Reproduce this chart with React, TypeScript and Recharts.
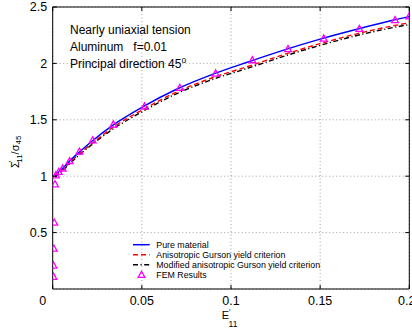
import React from "react";
import {
  ComposedChart,
  Line,
  Scatter,
  XAxis,
  YAxis,
  CartesianGrid,
  ReferenceLine,
} from "recharts";

// ---- data ----
const strain = [0.0013, 0.0034, 0.0056, 0.0095, 0.015, 0.022, 0.034, 0.05, 0.07, 0.09, 0.11, 0.13, 0.15, 0.17, 0.19, 0.2];
const pureMaterial = [1.0, 1.04, 1.07, 1.135, 1.215, 1.31, 1.455, 1.61, 1.775, 1.905, 2.015, 2.12, 2.215, 2.3, 2.38, 2.415];
const anisoGurson = [0.995, 1.03, 1.06, 1.12, 1.2, 1.29, 1.435, 1.585, 1.75, 1.875, 1.975, 2.08, 2.175, 2.26, 2.33, 2.36];
const modifiedGurson = [0.99, 1.02, 1.05, 1.11, 1.19, 1.28, 1.42, 1.57, 1.735, 1.86, 1.96, 2.065, 2.16, 2.245, 2.315, 2.345];

const femStrain = [0.0004, 0.0004, 0.0006, 0.0009, 0.0013, 0.0018, 0.0034, 0.0056, 0.0095, 0.015, 0.0224, 0.034, 0.0515, 0.0713, 0.0914, 0.112, 0.132, 0.152, 0.172, 0.192, 0.2];
const femStress = [0.11, 0.21, 0.36, 0.59, 0.93, 1.01, 1.04, 1.07, 1.135, 1.22, 1.32, 1.46, 1.62, 1.785, 1.912, 2.03, 2.128, 2.222, 2.308, 2.385, 2.42];

const xTicks = [0, 0.05, 0.1, 0.15, 0.2];
const xTickLabels = ["0", "0.05", "0.1", "0.15", "0.2"];
const yTicks = [0.5, 1, 1.5, 2, 2.5];
const yTickLabels = ["0.5", "1", "1.5", "2", "2.5"];

const seriesNames = [
  "Pure material",
  "Anisotropic Gurson yield criterion",
  "Modified anisotropic Gurson yield criterion",
  "FEM Results",
];

// ---- layout ----
const W = 412;
const H = 328;
const TOP = 7;
const RIGHT_M = 2.7;
const Y_AXIS_W = 52.7;
const X_AXIS_H = 39;
const RIGHT_X = W - RIGHT_M;
const FONT = "'Liberation Sans', Arial, Helvetica, sans-serif";

const toRows = (xs: number[], ys: number[]) => xs.map((x, i) => ({ x, y: ys[i] }));
const pureData = toRows(strain, pureMaterial);
const anisoData = toRows(strain, anisoGurson);
const modData = toRows(strain, modifiedGurson);
const femData = toRows(femStrain, femStress);

const MAGENTA = "#ff00ff";

const XTick = (props: any) => {
  const { x, y, payload } = props;
  const idx = xTicks.indexOf(payload.value);
  const label = idx >= 0 ? xTickLabels[idx] : String(payload.value);
  const dx = payload.value === 0 ? -10 : idx === xTicks.length - 1 ? -2.5 : 0;
  return (
    <g>
      <line x1={x} x2={x} y1={y} y2={y - 4} stroke="#000" strokeWidth={1} />
      <line x1={x} x2={x} y1={TOP} y2={TOP + 4} stroke="#000" strokeWidth={1} />
      <text x={x + dx} y={y + 15.7} textAnchor="middle" fontSize={12.5} fontFamily={FONT} fill="#000">
        {label}
      </text>
    </g>
  );
};

const YTick = (props: any) => {
  const { x, y, payload } = props;
  const idx = yTicks.indexOf(payload.value);
  const label = idx >= 0 ? yTickLabels[idx] : String(payload.value);
  return (
    <g>
      <line x1={x} x2={x + 4} y1={y} y2={y} stroke="#000" strokeWidth={1} />
      <line x1={RIGHT_X - 4} x2={RIGHT_X} y1={y} y2={y} stroke="#000" strokeWidth={1} />
      <text x={x - 5.5} y={y + 4.4} textAnchor="end" fontSize={12.5} fontFamily={FONT} fill="#000">
        {label}
      </text>
    </g>
  );
};

const Triangle = (props: any) => {
  const { cx, cy } = props;
  if (cx == null || cy == null) return null;
  const s = 3.4;
  const pts = `${cx},${cy - s} ${cx - s},${cy + s * 0.8} ${cx + s},${cy + s * 0.8}`;
  return <polygon points={pts} fill="none" stroke={MAGENTA} strokeWidth={1.3} />;
};

export default function App() {
  const legendX = 133;
  const legendY = 244.7;
  const rowH = 10;
  return (
    <div style={{ position: "absolute", left: 0, top: 0, width: W, height: H, background: "#fff" }}>
      <ComposedChart
        width={W}
        height={H}
        margin={{ top: TOP, right: RIGHT_M, bottom: 0, left: 0 }}
      >
        <CartesianGrid stroke="#8a8a8a" strokeDasharray="1 2.5" strokeWidth={0.8} />
        <XAxis
          type="number"
          dataKey="x"
          domain={[0, 0.2]}
          ticks={xTicks}
          interval={0}
          allowDataOverflow
          height={X_AXIS_H}
          tickSize={0}
          tickMargin={0}
          tickLine={false}
          axisLine={{ stroke: "#000", strokeWidth: 1 }}
          tick={<XTick />}
        />
        <YAxis
          type="number"
          dataKey="y"
          domain={[0, 2.5]}
          ticks={yTicks}
          interval={0}
          allowDataOverflow
          width={Y_AXIS_W}
          tickSize={0}
          tickMargin={0}
          tickLine={false}
          axisLine={{ stroke: "#000", strokeWidth: 1 }}
          tick={<YTick />}
        />
        <ReferenceLine y={2.5} stroke="#000" strokeWidth={1} ifOverflow="visible" />
        <ReferenceLine x={0.2} stroke="#000" strokeWidth={1} ifOverflow="visible" />
        <Line
          data={modData}
          dataKey="y"
          type="monotone"
          stroke="#000"
          strokeWidth={1.4}
          strokeDasharray="5 2.5 1.2 2.5"
          dot={false}
          isAnimationActive={false}
          name={seriesNames[2]}
        />
        <Line
          data={anisoData}
          dataKey="y"
          type="monotone"
          stroke="#ff0000"
          strokeWidth={1.4}
          strokeDasharray="5 3"
          dot={false}
          isAnimationActive={false}
          name={seriesNames[1]}
        />
        <Line
          data={pureData}
          dataKey="y"
          type="monotone"
          stroke="#0000ff"
          strokeWidth={1.5}
          dot={false}
          isAnimationActive={false}
          name={seriesNames[0]}
        />
        <Scatter
          data={femData}
          dataKey="y"
          shape={<Triangle />}
          isAnimationActive={false}
          name={seriesNames[3]}
        />

        {/* annotations */}
        <g fontFamily={FONT} fontSize={12} fill="#000">
          <text x={70} y={34}>Nearly uniaxial tension</text>
          <text x={70} y={50.5}>
            Aluminum
            <tspan x={133.3}>f=0.01</tspan>
          </text>
          <text x={70} y={68}>
            Principal direction 45
            <tspan fontSize={8.5} dy={-5}>o</tspan>
          </text>
        </g>

        {/* y axis label */}
        <text
          x={18.5}
          y={168}
          transform="rotate(-90 18.5 168)"
          fontFamily={FONT}
          fontSize={11}
          fill="#000"
        >
          Σ
          <tspan fontSize={8} dy={-4.5} dx={-1}>′</tspan>
          <tspan fontSize={8} dy={7.5} dx={-2}>11</tspan>
          <tspan dy={-3}>/σ</tspan>
          <tspan fontSize={8} dy={2.5}>45</tspan>
        </text>

        {/* x axis label */}
        <text x={221.7} y={319.3} fontFamily={FONT} fontSize={11} fill="#000">
          E
          <tspan fontSize={8} dy={-5.5} dx={0}>′</tspan>
          <tspan fontSize={8.5} dy={13} dx={-2}>11</tspan>
        </text>

        {/* legend */}
        <g fontFamily={FONT} fontSize={8.8} fill="#000">
          <line x1={legendX} x2={legendX + 16.7} y1={legendY} y2={legendY} stroke="#0000ff" strokeWidth={1.5} />
          <text x={156.3} y={legendY + 3.2}>{seriesNames[0]}</text>
          <line x1={legendX} x2={legendX + 16.7} y1={legendY + rowH} y2={legendY + rowH} stroke="#ff0000" strokeWidth={1.4} strokeDasharray="5 3" />
          <text x={156.3} y={legendY + rowH + 3.2}>{seriesNames[1]}</text>
          <line x1={legendX} x2={legendX + 16.7} y1={legendY + 2 * rowH} y2={legendY + 2 * rowH} stroke="#000" strokeWidth={1.4} strokeDasharray="5 2.5 1.2 2.5" />
          <text x={156.3} y={legendY + 2 * rowH + 3.2}>{seriesNames[2]}</text>
          <Triangle cx={legendX + 8.5} cy={legendY + 3 * rowH} />
          <text x={156.3} y={legendY + 3 * rowH + 3.2}>{seriesNames[3]}</text>
        </g>
      </ComposedChart>
    </div>
  );
}
